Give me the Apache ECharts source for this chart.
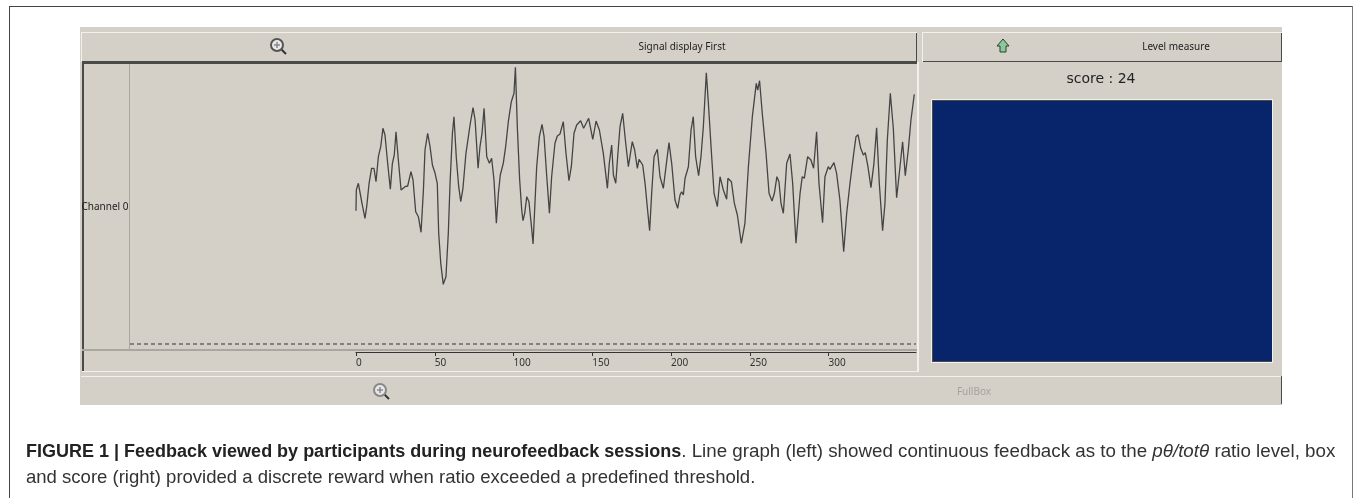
<!DOCTYPE html>
<html>
<head>
<meta charset="utf-8">
<style>
html, body { margin: 0; padding: 0; background: #fff; }
#main { width: 1355px; height: 498px; }
</style>
<script src="https://cdn.jsdelivr.net/npm/echarts@6/dist/echarts.min.js"></script>
</head>
<body>
<div id="main"></div>
<script>
// signal trace, x in axis units, value above the dashed threshold
var sampleX = [0,0.2,1.5,2.5,3.8,5.7,6.8,8.3,9.9,11.4,12.7,14.2,15.7,17.1,18.4,20.1,21.8,23.1,24.3,25.4,26.7,28.6,29.6,31.1,32.8,34.9,36.2,37.9,39.6,41.3,42.8,43.8,45.5,47,48.5,50.2,51.6,52.5,53.8,55.4,57.1,58.6,59.7,61.2,62.2,63.7,65.2,66.5,67.9,69.8,72.4,74.3,75.6,77.5,78.7,80,81.3,83,84.7,86.1,87.6,89.1,90.4,91.6,93.5,95,96.7,98.6,100.3,101.2,102.4,103.9,105.2,106,107.1,108.4,109.8,111.3,112.4,113.7,114.7,116.4,118.1,119.4,121.1,122.8,124.2,126.3,127.8,129.5,131.6,133.3,135.2,136.7,138.4,140.1,142.6,144.5,147.7,150.3,152.4,154.5,157,159.6,160.8,162.3,163.4,164.9,166.1,167.6,169.3,171,172.9,174,175.4,176.9,178.6,179.7,
    182,183.5,184.9,186.4,187.7,189.2,191.3,193,195.1,196.8,198.7,200.4,202.5,204.2,205.7,206.7,207.8,208.9,211,212.7,214.1,215.6,217.5,219,220.5,222.4,223.7,225.8,227.3,229.4,231.1,233.2,235.3,236.1,238.3,240.2,242.1,244.6,246.9,249.1,251.6,254.1,255,256.2,257.9,260.3,262.2,264.1,265.6,267.2,268.5,269.8,271.3,273.4,275.5,277.2,279.3,281.9,283.3,284.6,286.7,288.8,290.5,292.4,293.9,296.2,297.7,299.8,300.9,303.4,305.1,307.2,309.6,311.5,313.6,315.7,317.4,318.7,320.4,322.1,323.3,325,326.9,328.8,330.5,332.2,334.3,335.8,337.3,339.2,341.1,343.2,344.9,347,348.7,350.6,352.3,354.4];
var signal = [133.3,154,160.7,160.7,140.7,125.7,137.3,160.7,175.7,175.7,162.3,187.3,197.3,215.7,209,180.7,154.7,180.7,189,212.3,187.3,154,152,157.3,158,172.3,164,132.3,127.3,111.7,154,194,210.7,197.3,179,170.7,160.7,110.7,80.7,59.7,67.3,110.7,160.7,210.7,227.3,185.7,157.3,142.3,155.7,190.7,219,236.3,224,175.7,197.3,210.7,235.7,187.3,180.7,185.7,164,120.7,150.7,169,180.7,197.3,222.3,242.3,250.7,276.7,217.3,164,134,123.3,130.7,147.3,142.3,119,100,144,177.3,207.3,219.7,207.3,167.3,130.7,167.3,200.7,208,210,222.3,190.7,163.3,177.3,210.7,219,223.3,215.7,225.7,204.7,223,214,190.7,155.7,180.7,199,169,160.7,187.3,217.3,230.7,204,177.3,177.3,202.3,194,175.7,184.7,
    179,160.7,137.3,113.3,150.7,187.3,194.7,167.3,155.7,177.3,201.3,180.7,144,135.7,149,152.3,149,165.7,177.3,214,227.3,187.3,168.3,187.3,217.3,271.3,240.7,187.3,150.7,137.3,167.3,154,144.7,165.7,162.3,140.7,129,100.7,120.7,177.3,227.3,260.7,254,263.3,230.7,190.7,150.7,143,150.7,167.3,162.3,140.7,130.7,180.7,190,160.7,100.7,150.7,167.3,165.7,187.3,184,175.7,212.3,160.7,121.3,167.3,177.3,174.7,181.3,170.7,144,92.3,130.7,160.7,187.3,207.3,209.3,195.7,189,191.3,177.3,156.3,180.7,216.3,160.7,113.3,140.7,204,250.7,215.7,146.3,170.7,202.3,168.3,194,224,249.7];
var xTicks = [0, 50, 100, 150, 200, 250, 300];
var threshold = [0, 0];
var levelValue = [1];
var scoreLabel = 'score : 24';

var panelBg = '#d4d0c8';
var dark = '#4a4a48';
var light = '#f2f0ea';
var uiFont = '"Noto Sans"';

function rect(x, y, w, h, fill) {
    return { type: 'rect', shape: { x: x, y: y, width: w, height: h }, style: { fill: fill }, silent: true, z: 0 };
}
function label(text, x, y, size, color, family, align) {
    return { type: 'text', x: x, y: y, z: 5, silent: true, style: {
        text: text, fill: color, font: size + 'px ' + (family || uiFont),
        textAlign: align || 'center', textVerticalAlign: 'middle' } };
}
function button(x, y, w, h) {
    return [rect(x, y, w, h, light), rect(x + 1, y + 1, w - 1, h - 1, dark), rect(x + 1, y + 1, w - 2, h - 2, panelBg)];
}
function magnifier(cx, cy, color) {
    return [
        { type: 'line', z: 5, silent: true, shape: { x1: cx + 3, y1: cy + 3, x2: cx + 9, y2: cy + 9 }, style: { stroke: '#333', lineWidth: 2 } },
        { type: 'circle', z: 5, silent: true, shape: { cx: cx, cy: cy, r: 6 }, style: { fill: '#e8e8e8', stroke: color, lineWidth: 2 } },
        { type: 'line', z: 6, silent: true, shape: { x1: cx - 3, y1: cy, x2: cx + 3, y2: cy }, style: { stroke: '#8a8a8a', lineWidth: 1.5 } },
        { type: 'line', z: 6, silent: true, shape: { x1: cx, y1: cy - 3, x2: cx, y2: cy + 3 }, style: { stroke: '#8a8a8a', lineWidth: 1.5 } }
    ];
}

var elements = [];
// page frame
elements.push(rect(9, 6, 1344, 1, '#444'));
elements.push(rect(9, 6, 1, 492, '#444'));
elements.push(rect(1352, 6, 1, 492, '#777'));
// window body
elements.push(rect(80, 27, 1202, 378, panelBg));
elements = elements.concat(button(81, 32, 836, 30));
elements = elements.concat(button(922, 32, 360, 30));
elements.push(rect(81, 376, 1201, 1, light));
elements.push(rect(1281, 376, 1, 28, dark));
// plot box
elements.push(rect(82, 61, 835, 3, dark));
elements.push(rect(82, 61, 2, 310, dark));
elements.push(rect(129, 64, 1, 286, '#a9a79f'));
elements.push(rect(82, 349, 835, 2, '#a9a79f'));
elements.push(rect(82, 371, 836, 1, light));
elements.push(rect(917, 62, 2, 310, light));
// level box surround
elements.push(rect(931, 99, 342, 264, light));
elements.push(rect(932, 100, 340, 262, dark));
// icons and texts
elements = elements.concat(magnifier(277, 45, '#555'));
elements = elements.concat(magnifier(380, 390, '#888'));
elements.push({ type: 'polygon', z: 5, silent: true,
    shape: { points: [[1003, 39], [1009, 46], [1006, 46], [1006, 52], [1000, 52], [1000, 46], [997, 46]] },
    style: { fill: '#8cc79a', stroke: '#24402c', lineWidth: 1 } });
elements.push(label('Signal display First', 682, 47, 10, '#222'));
elements.push(label('Level measure', 1176, 47, 10, '#222'));
elements.push(label(scoreLabel, 1101, 79, 14, '#222', '"DejaVu Sans"'));
elements.push(label('Channel 0', 105, 207, 10, '#222'));
elements.push(label('FullBox', 974, 392, 10, '#a5a39c'));
// caption
elements.push({ type: 'text', x: 26, y: 452, z: 5, silent: true, style: {
    text: '{b|FIGURE 1 | Feedback viewed by participants during neurofeedback sessions}{r|. Line graph (left) showed continuous feedback as to the }{i|pθ/totθ}{r| ratio level, box}',
    textVerticalAlign: 'middle',
    rich: {
        b: { font: 'bold 18px "Liberation Sans"', fill: '#222' },
        r: { font: '18.75px "Liberation Sans"', fill: '#333' },
        i: { font: 'italic 18.75px "Liberation Sans"', fill: '#333' }
    } } });
elements.push(label('and score (right) provided a discrete reward when ratio exceeded a predefined threshold.', 26, 478, 18.55, '#333', '"Liberation Sans"', 'left'));

var trace = sampleX.map(function (x, i) { return [x, signal[i]]; });

var chart = echarts.init(document.getElementById('main'), null, { renderer: 'canvas' });
chart.setOption({
    animation: false,
    backgroundColor: '#fff',
    graphic: { elements: elements },
    grid: [
        { left: 130, width: 786, top: 64, height: 288 },
        { left: 356, width: 560, top: 64, height: 288 },
        { left: 933, width: 339, top: 101, height: 260 }
    ],
    xAxis: [
        { gridIndex: 0, type: 'value', min: 0, max: 1, show: false },
        {
            gridIndex: 1, type: 'value', min: 0, max: 355.5, position: 'bottom',
            splitLine: { show: false },
            axisLine: { show: true, onZero: false, lineStyle: { color: '#333' } },
            axisTick: { show: true, customValues: xTicks, length: 4, lineStyle: { color: '#333' } },
            axisLabel: { customValues: xTicks, align: 'left', margin: 6, fontSize: 10, color: '#333', fontFamily: 'Noto Sans' }
        },
        { gridIndex: 2, type: 'category', data: ['level'], show: false }
    ],
    yAxis: [
        { gridIndex: 0, type: 'value', min: -8, max: 280, show: false },
        { gridIndex: 1, type: 'value', min: -8, max: 280, show: false },
        { gridIndex: 2, type: 'value', min: 0, max: 1, show: false }
    ],
    series: [
        {
            type: 'line', xAxisIndex: 0, yAxisIndex: 0, showSymbol: false, silent: true,
            data: threshold.map(function (v, i) { return [i, v]; }),
            lineStyle: { color: '#333', width: 1.2, type: [4, 3] }
        },
        {
            type: 'line', xAxisIndex: 1, yAxisIndex: 1, showSymbol: false, silent: true,
            data: trace,
            lineStyle: { color: '#444', width: 1.3 }
        },
        {
            type: 'bar', xAxisIndex: 2, yAxisIndex: 2, silent: true,
            data: levelValue, barWidth: '100%',
            itemStyle: { color: '#08246b' }
        }
    ]
});
</script>
</body>
</html>
